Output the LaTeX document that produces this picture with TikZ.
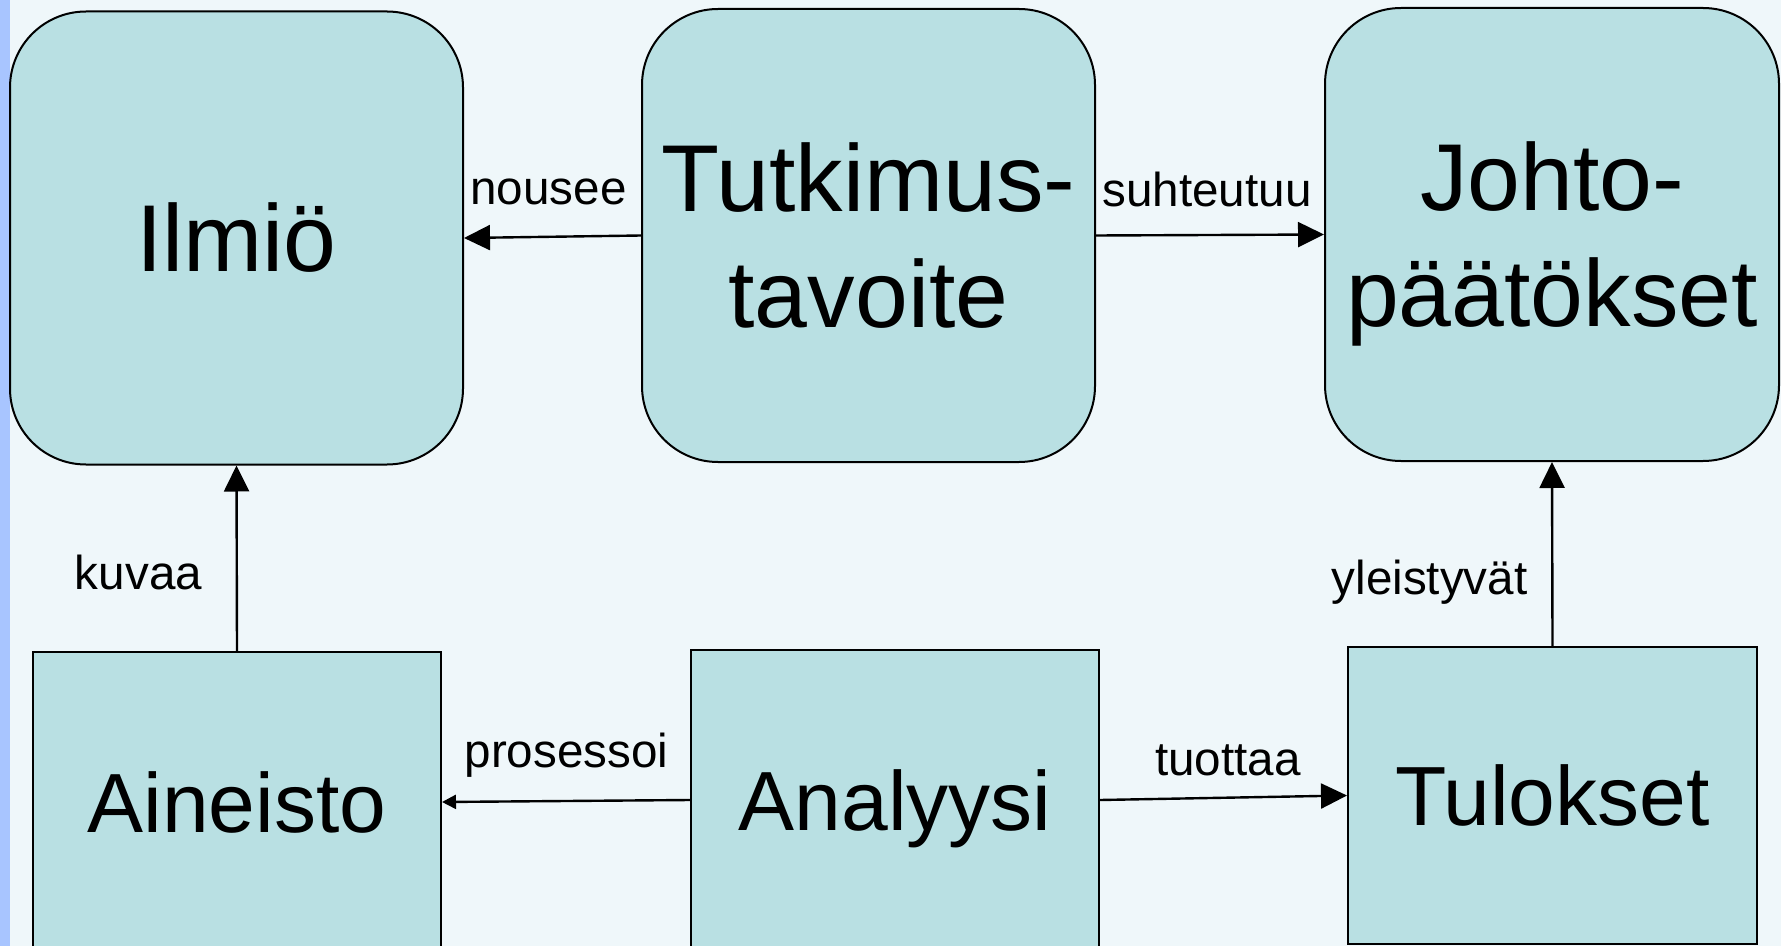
\documentclass[tikz,border=0pt]{standalone}
\usepackage{fontspec}
\setmainfont{Liberation Sans}
\usetikzlibrary{arrows.meta}
\definecolor{bg}{RGB}{239,247,250}
\definecolor{strip}{RGB}{168,197,255}
\definecolor{boxfill}{RGB}{185,224,227}
\newcommand{\nodepth}[1]{\raisebox{0pt}[\height][0pt]{#1}}
\begin{document}
\begin{tikzpicture}[x=0.5pt,y=-0.5pt,
  roundbox/.style={draw=black,line width=1pt,fill=boxfill,rounded corners=38pt,
    minimum width=226.5pt,minimum height=226.5pt,inner sep=0pt,align=center,
    font=\fontsize{47.5}{58}\selectfont},
  sqbox/.style={draw=black,line width=1pt,fill=boxfill,minimum width=204pt,
    minimum height=150pt,inner sep=0pt,font=\fontsize{42}{50}\selectfont},
  conn/.style={line width=1.2pt,-{Triangle[length=13pt,width=12.5pt]}},
  smallconn/.style={line width=1.2pt,-{Triangle[length=7pt,width=7pt]}},
  lbl/.style={font=\fontsize{23.8}{28}\selectfont,inner sep=0pt}]
\clip (0,0) rectangle (1781,946);
\fill[bg] (0,0) rectangle (1781,946);
\fill[strip] (0,0) rectangle (10,946);

\node[roundbox] (ilmio) at (236.5,238) {Ilmiö};
\node[roundbox] (tutk) at (868.5,235.5) {Tutkimus-\\tavoite};
\node[roundbox,minimum width=227pt] (johto) at (1552,234.5) {Johto-\\\nodepth{päätökset}};

\node[sqbox] (aine) at (237,802) {Aineisto};
\node[sqbox] (ana) at (895,800) {\nodepth{Analyysi}};
\node[sqbox,minimum width=204.5pt,minimum height=148.5pt] (tul) at (1552.5,795.5) {Tulokset};

\draw[conn] (tutk.west) -- (ilmio.east);
\draw[conn] (tutk.east) -- (johto.west);
\draw[conn] (aine.north) -- (ilmio.south);
\draw[conn] (tul.north) -- (johto.south);
\draw[smallconn] (ana.west) -- (aine.east);
\draw[conn] (ana.east) -- (tul.west);

\node[lbl] (l1) at (548.5,191.5) {nousee};
\node[lbl] (l2) at (1207,189) {suhteutuu};
\node[lbl] (l3) at (138.5,572) {kuvaa};
\node[lbl] (l4) at (1429.5,582.5) {yleistyvät};
\node[lbl] (l5) at (566.5,755.5) {prosessoi};
\node[lbl] (l6) at (1228,760.5) {tuottaa};
\end{tikzpicture}
\end{document}
